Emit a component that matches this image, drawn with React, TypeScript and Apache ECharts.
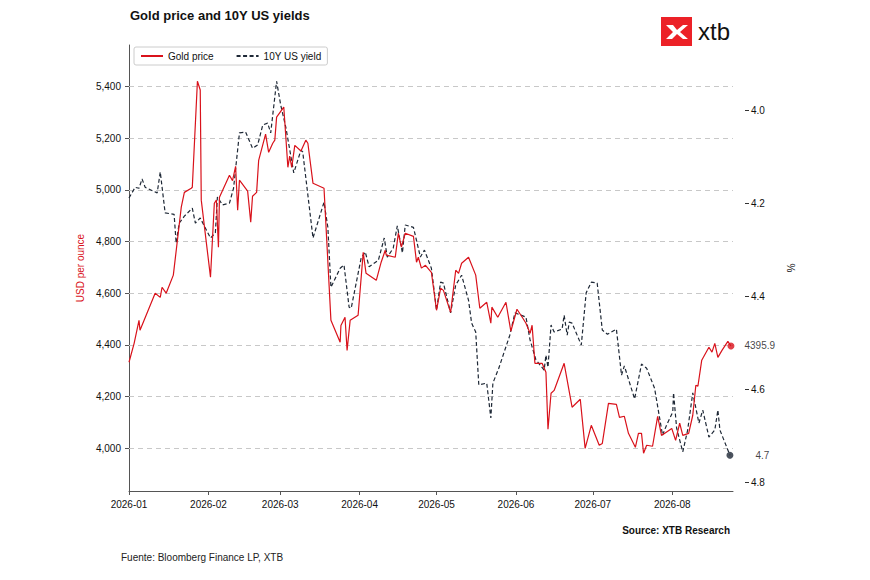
import React, { useEffect, useRef } from "react";
import * as echarts from "echarts";

// day of year (0 = 2026-01-01) and values
const goldDays = [0, 2, 3.9, 4.3, 10.2, 12.2, 12.9, 14.5, 17.3, 20.4, 21.6, 24.3, 24.7, 26.7, 27.8, 28.2, 31.8, 33.3, 34.1, 34.9, 35.3, 39.2, 40.4, 41.6, 42.4, 43.1, 46.3, 47.5, 48.2, 49.8, 50.6, 53.3, 54.5, 56.1, 56.9, 57.6, 60.4, 62.0, 62.7, 63.5, 64.7, 67.1, 69.0, 69.8, 71.8, 76.1, 78.8, 82.4, 82.7, 84.3, 85.1, 86.3, 89.4, 91.4, 92.5, 96.5, 98.4, 100, 100.4, 103.9, 105.1, 106.3, 107.8, 111, 112.2, 112.9, 114.1, 115.7, 118, 120, 121.6, 122.7, 125.5, 127.5, 128.6, 129.8, 132.5, 135.3, 136.9, 139.6, 141.2, 141.6, 143.9, 147.1, 149, 151.4, 153.7, 154.9, 156.5, 157.3, 158.4, 161.2, 162.7, 163.5, 164.7, 165.9, 169.8, 172.9, 176.1, 178, 180.4, 183.5, 184.7, 187.1, 190.2, 191.4, 193.3, 194.9, 197.6, 198.8, 200, 200.8, 202, 204.3, 206.3, 207.8, 211.8, 213.3, 214.9, 216.1, 218.4, 220, 221.2, 222, 223.5, 226.3, 227.5, 228.6, 229.8, 231.4, 233.7, 234.9];
const goldValues = [4333, 4406, 4495, 4457, 4600, 4584, 4623, 4600, 4670, 4933, 4990, 5006, 5010, 5420, 5386, 4960, 4662, 4948, 4960, 4778, 4971, 5056, 5035, 5091, 4921, 5037, 4995, 4875, 4975, 4990, 5114, 5215, 5145, 5180, 5192, 5281, 5320, 5087, 5130, 5087, 5172, 5150, 5192, 5180, 5025, 5006, 4495, 4410, 4475, 4507, 4379, 4495, 4515, 4758, 4677, 4650, 4720, 4766, 4747, 4739, 4832, 4778, 4832, 4820, 4720, 4739, 4697, 4708, 4681, 4534, 4619, 4611, 4526, 4689, 4677, 4716, 4739, 4670, 4542, 4565, 4484, 4546, 4507, 4565, 4453, 4538, 4503, 4484, 4445, 4476, 4329, 4329, 4294, 4074, 4213, 4224, 4329, 4159, 4190, 4000, 4089, 4012, 4019, 4174, 4170, 4120, 4124, 4058, 4004, 4058, 4058, 3981, 4012, 4008, 4124, 4050, 4077, 4031, 4097, 4050, 4058, 4128, 4244, 4240, 4341, 4391, 4372, 4406, 4352, 4379, 4414, 4395.9];

const yieldDays = [0, 2.4, 3.9, 5.1, 6.3, 11, 12.2, 14.1, 17.6, 18.4, 19.6, 21.6, 24.7, 25.9, 27.8, 31.8, 33.7, 34.5, 36.5, 39.2, 40.8, 43.1, 45.5, 48.2, 50.2, 52.2, 54.1, 55.3, 57.6, 59.2, 61.2, 64.3, 67.1, 67.8, 71.8, 76.1, 77.6, 78.8, 82.4, 83.9, 85.9, 86.7, 90.6, 92.2, 93.7, 97.3, 99.6, 100.8, 103.1, 104.7, 106.7, 107.8, 111, 112.9, 113.7, 115.3, 118, 120, 121.6, 122.7, 125.5, 127.5, 129.8, 132.5, 133.7, 135.3, 136.5, 139.6, 141.2, 142, 144.3, 148.6, 150.6, 154.9, 156.5, 158.8, 162, 162.7, 163.5, 164.7, 165.9, 169, 169.8, 171, 171.8, 172.9, 176.5, 178.4, 180.4, 182.7, 184.7, 186.7, 190.2, 192.2, 193.3, 197.3, 200, 202, 205.1, 208.2, 209.8, 212.2, 212.5, 213.7, 216.1, 218, 220, 222.4, 223.9, 226.3, 228.6, 229.8, 230.6, 234.5];
const yieldValues = [4.189, 4.166, 4.168, 4.148, 4.166, 4.178, 4.133, 4.221, 4.224, 4.286, 4.243, 4.228, 4.211, 4.243, 4.232, 4.275, 4.264, 4.187, 4.204, 4.2, 4.168, 4.049, 4.047, 4.082, 4.075, 4.032, 4.028, 4.049, 3.938, 3.989, 4.037, 4.135, 4.086, 4.09, 4.275, 4.198, 4.252, 4.381, 4.34, 4.333, 4.424, 4.426, 4.318, 4.305, 4.337, 4.323, 4.275, 4.316, 4.297, 4.249, 4.307, 4.247, 4.252, 4.297, 4.316, 4.301, 4.34, 4.43, 4.37, 4.372, 4.436, 4.376, 4.355, 4.409, 4.458, 4.477, 4.591, 4.587, 4.662, 4.587, 4.555, 4.484, 4.436, 4.445, 4.494, 4.537, 4.559, 4.527, 4.553, 4.462, 4.477, 4.471, 4.441, 4.484, 4.456, 4.458, 4.505, 4.393, 4.37, 4.372, 4.473, 4.482, 4.471, 4.57, 4.55, 4.621, 4.546, 4.555, 4.598, 4.699, 4.677, 4.649, 4.608, 4.684, 4.735, 4.688, 4.608, 4.673, 4.645, 4.703, 4.688, 4.645, 4.688, 4.742];

const goldTicks = [4000, 4200, 4400, 4600, 4800, 5000, 5200, 5400];
const yieldTicks = [4.0, 4.2, 4.4, 4.6, 4.8];
const monthStarts = [0, 31, 59, 90, 120, 151, 181, 212];
const monthLabels = ["2026-01", "2026-02", "2026-03", "2026-04", "2026-05", "2026-06", "2026-07", "2026-08"];

const FONT = "Liberation Sans";
const RED = "#d9121b";
const NAVY = "#1e2836";

const App: React.FC = () => {
  const ref = useRef<HTMLDivElement>(null);

  useEffect(() => {
    if (!ref.current) return;
    const chart = echarts.init(ref.current, null, { renderer: "svg" });
    const gold = goldDays.map((d, i) => [d, goldValues[i]]);
    const yld = yieldDays.map((d, i) => [d, yieldValues[i]]);
    const lastG = gold[gold.length - 1];
    const lastY = yld[yld.length - 1];

    chart.setOption({
      animation: false,
      textStyle: { fontFamily: FONT },
      grid: { left: 129, right: 137, top: 45, bottom: 89 },
      legend: {
        left: 134,
        top: 47,
        itemWidth: 22,
        itemHeight: 10,
        itemGap: 22,
        padding: [4, 6],
        borderColor: "#cccccc",
        borderWidth: 1,
        borderRadius: 2,
        itemStyle: { opacity: 0 },
        textStyle: { fontSize: 10, color: "#111", fontFamily: FONT },
        data: ["Gold price", "10Y US yield"],
      },
      xAxis: {
        type: "value",
        min: 0,
        max: 235.7,
        axisLine: { lineStyle: { color: "#555" } },
        axisTick: { show: true, customValues: monthStarts, length: 4, lineStyle: { color: "#555" } },
        axisLabel: {
          customValues: monthStarts,
          color: "#111",
          fontSize: 10,
          margin: 8,
          formatter: (v: number) => monthLabels[monthStarts.indexOf(v)] ?? "",
        },
        splitLine: { show: false },
      },
      yAxis: [
        {
          type: "value",
          min: 3835,
          max: 5560,
          name: "USD per ounce",
          nameLocation: "middle",
          nameGap: 43,
          nameTextStyle: { color: RED, fontSize: 10 },
          axisLine: { show: true, lineStyle: { color: "#555" } },
          axisTick: { show: true, customValues: goldTicks, length: 4, lineStyle: { color: "#555" } },
          axisLabel: {
            customValues: goldTicks,
            color: "#111",
            fontSize: 10,
            formatter: (v: number) => v.toLocaleString("en-US"),
          },
          splitLine: { show: false },
        },
        {
          type: "value",
          inverse: true,
          min: 3.86,
          max: 4.819,
          offset: 12,
          name: "%",
          nameLocation: "middle",
          nameGap: 40,
          nameRotate: -90,
          nameTextStyle: { color: "#111", fontSize: 10 },
          axisLine: { show: false },
          axisTick: { show: true, customValues: yieldTicks, length: 4, lineStyle: { color: "#333" } },
          axisLabel: {
            customValues: yieldTicks,
            color: "#111",
            fontSize: 10,
            margin: 6,
            formatter: (v: number) => v.toFixed(1),
          },
          splitLine: { show: false },
        },
      ],
      series: [
        {
          name: "Gold price",
          type: "line",
          data: gold,
          yAxisIndex: 0,
          symbol: "none",
          z: 3,
          lineStyle: { color: RED, width: 1.2 },
          itemStyle: { color: RED },
          markLine: {
            silent: true,
            symbol: "none",
            label: { show: false },
            lineStyle: { color: "#c8c8c8", type: [5, 4], width: 1 },
            data: goldTicks.map((v) => ({ yAxis: v })),
            z: 1,
          },
        },
        {
          name: "10Y US yield",
          type: "line",
          data: yld,
          yAxisIndex: 1,
          symbol: "none",
          z: 2,
          lineStyle: { color: NAVY, width: 1.2, type: [4, 2.5] },
          itemStyle: { color: NAVY },
        },
        {
          type: "scatter",
          data: [lastG],
          yAxisIndex: 0,
          symbolSize: 7,
          itemStyle: { color: RED },
          label: { show: true, position: "right", distance: 10, color: "#111", fontSize: 10, formatter: () => String(lastG[1]) },
          z: 5,
        },
        {
          type: "scatter",
          data: [lastY],
          yAxisIndex: 1,
          symbolSize: 7,
          itemStyle: { color: NAVY },
          label: { show: true, position: "right", distance: 22, color: "#111", fontSize: 10, formatter: () => lastY[1].toFixed(1) },
          z: 5,
        },
      ],
      graphic: [
        { type: "text", left: 130, top: 9, style: { text: "Gold price and 10Y US yields", fontSize: 13, fontWeight: "bold", fill: "#111", fontFamily: FONT } },
        { type: "text", right: 140, top: 525, style: { text: "Source: XTB Research", fontSize: 10, fontWeight: "bold", fill: "#111", fontFamily: FONT } },
        { type: "text", left: 121, top: 552, style: { text: "Fuente: Bloomberg Finance LP, XTB", fontSize: 10, fill: "#222", fontFamily: FONT } },
        {
          type: "group",
          left: 661,
          top: 17,
          children: [
            { type: "rect", shape: { x: 0, y: 0, width: 31, height: 29 }, style: { fill: "#ec2127" } },
            { type: "polygon", shape: { points: [[5, 8], [12, 8], [16, 13], [22, 8], [27, 8], [19, 15], [27, 22], [22, 22], [16, 17], [11, 22], [5, 22], [12, 15]] }, style: { fill: "#fff" } },
            { type: "text", x: 37, y: 2, style: { text: "xtb", fontSize: 24, fill: "#111", fontFamily: FONT } },
          ],
        },
      ],
    });
    return () => chart.dispose();
  }, []);

  return <div ref={ref} style={{ position: "fixed", left: 0, top: 0, width: 870, height: 580, background: "#fff" }} />;
};

export default App;
